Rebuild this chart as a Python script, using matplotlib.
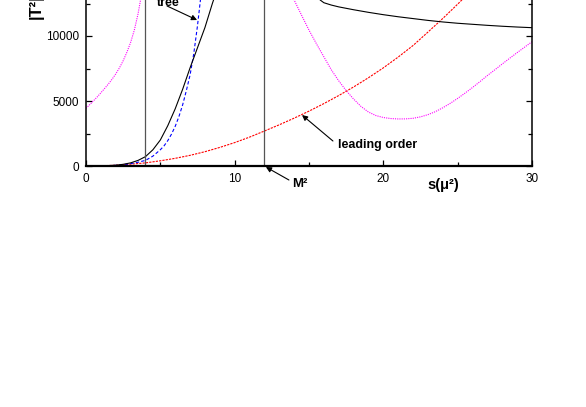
import numpy as np
import matplotlib.pyplot as plt
from matplotlib.ticker import MultipleLocator

plt.rcParams['font.family'] = ['Liberation Sans', 'DejaVu Sans']

# full result (black solid)
s_full = [0, 0.5, 1, 1.5, 2, 2.5, 3, 3.5, 4, 4.5, 5, 5.5, 6, 6.5, 7, 7.5, 8, 8.5, 9,
          9.5, 10, 11, 12, 13, 14, 14.5, 15, 15.5, 15.75, 16, 16.5, 17, 17.5, 18, 19,
          20, 21, 22, 23, 24, 25, 26, 27, 28, 29, 30]
T_full = [0, 2, 10, 30, 60, 130, 240, 430, 720, 1250, 2000, 3100, 4400, 5900, 7550,
          9100, 10650, 12500, 14200, 15700, 16900, 18300, 18700, 18000, 16500, 15300,
          14200, 13300, 12770, 12560, 12380, 12240, 12130, 12020, 11820, 11640, 11480,
          11340, 11200, 11080, 10980, 10900, 10820, 10750, 10690, 10640]

# tree level (blue dashed)
s_tree = [0, 0.5, 1, 1.5, 2, 2.5, 3, 3.5, 4, 4.5, 5, 5.25, 5.5, 5.75, 6, 6.25, 6.5,
          6.75, 7, 7.25, 7.5, 7.75, 8]
T_tree = [0, 2, 8, 25, 50, 100, 180, 290, 430, 760, 1250, 1550, 1950, 2450, 3050,
          3800, 4700, 5800, 7000, 8650, 10800, 13300, 16200]

# leading order (red dashed)
s_lead = [0, 1, 2, 3, 4, 5, 6, 7, 8, 9, 10, 11, 12, 13, 14, 15, 16, 17, 18, 19, 20,
          21, 22, 23, 24, 25, 26, 27]
T_lead = [0, 15, 60, 140, 240, 400, 590, 820, 1100, 1430, 1800, 2220, 2690, 3170,
          3680, 4220, 4800, 5420, 6080, 6790, 7550, 8380, 9270, 10300, 11350, 12450,
          13600, 14800]

# magenta dotted, two branches
s_mag1 = [0, 0.25, 0.5, 0.75, 1, 1.25, 1.5, 1.75, 2, 2.25, 2.5, 2.75, 3, 3.25, 3.5,
          3.75, 4]
T_mag1 = [4440, 4720, 5010, 5310, 5630, 5960, 6300, 6670, 7080, 7550, 8100, 8750,
          9500, 10450, 11700, 13300, 15200]
s_mag2 = [13, 13.5, 14, 14.5, 15, 15.5, 16, 16.5, 17, 17.5, 18, 18.5, 19, 19.5, 20,
          20.5, 21, 21.5, 22, 22.5, 23, 23.5, 24, 24.5, 25, 25.5, 26, 26.5, 27, 27.5,
          28, 28.5, 29, 29.5, 30]
T_mag2 = [15300, 14000, 12770, 11600, 10450, 9400, 8400, 7400, 6550, 5800, 5150, 4580,
          4150, 3880, 3730, 3650, 3620, 3625, 3670, 3780, 3950, 4180, 4480, 4820, 5200,
          5610, 6040, 6490, 6960, 7400, 7850, 8290, 8720, 9140, 9560]

thresholds = [4, 12]

fig = plt.figure(figsize=(5.86, 4.07), dpi=100)
ax = fig.add_axes([86 / 586, 241 / 407, 446 / 586, 260 / 407])

ax.plot(s_mag1, T_mag1, color='magenta', lw=0.8, ls=(0, (1, 1)))
ax.plot(s_mag2, T_mag2, color='magenta', lw=0.8, ls=(0, (1, 1)))
ax.plot(s_lead, T_lead, color='red', lw=0.8, ls=(0, (2, 1)))
ax.plot(s_tree, T_tree, color='blue', lw=0.8, ls=(0, (3, 2)))
ax.plot(s_full, T_full, color='black', lw=0.8)
for t in thresholds:
    ax.axvline(t, color='#555555', lw=0.9)

ax.set_xlim(0, 30)
ax.set_ylim(0, 20000)
ax.xaxis.set_major_locator(MultipleLocator(10))
ax.xaxis.set_minor_locator(MultipleLocator(5))
ax.yaxis.set_major_locator(MultipleLocator(5000))
ax.yaxis.set_minor_locator(MultipleLocator(2500))
ax.tick_params(which='both', direction='in', top=True, right=True, labelsize=8.5)
ax.tick_params(which='major', length=4.5, width=0.9)
ax.tick_params(which='minor', length=3, width=0.9)
ax.tick_params(axis='y', pad=5)
ax.tick_params(axis='x', pad=5)
for sp in ax.spines.values():
    sp.set_linewidth(1.1)
ax.spines['bottom'].set_linewidth(1.6)

arrow = dict(arrowstyle='-|>', color='black', lw=0.8, shrinkA=0, shrinkB=0,
             mutation_scale=8)

ax.text(4.78, 12310, 'tree', fontsize=9, fontweight='bold', ha='left', va='baseline')
ax.annotate('', xy=(7.47, 11230), xytext=(5.45, 12310), arrowprops=arrow)

ax.text(16.95, 1385, 'leading order', fontsize=9, fontweight='bold', ha='left',
        va='baseline')
ax.annotate('', xy=(14.53, 3923), xytext=(16.61, 1923), arrowprops=arrow)

ax.text(13.86, -1615, 'M²', fontsize=9.5, fontweight='bold', ha='left', va='baseline')
ax.annotate('', xy=(12.1, -77), xytext=(13.65, -1077), arrowprops=arrow,
            annotation_clip=False)

ax.text(23.0, -1770, 's(μ²)', fontsize=10.5, fontweight='bold', ha='left',
        va='baseline')

fig.text(36 / 586, (407 - 19) / 407, '|T²|', rotation=90, fontsize=12,
         fontweight='bold', ha='center', va='bottom')

fig.savefig('out.png', dpi=100)
